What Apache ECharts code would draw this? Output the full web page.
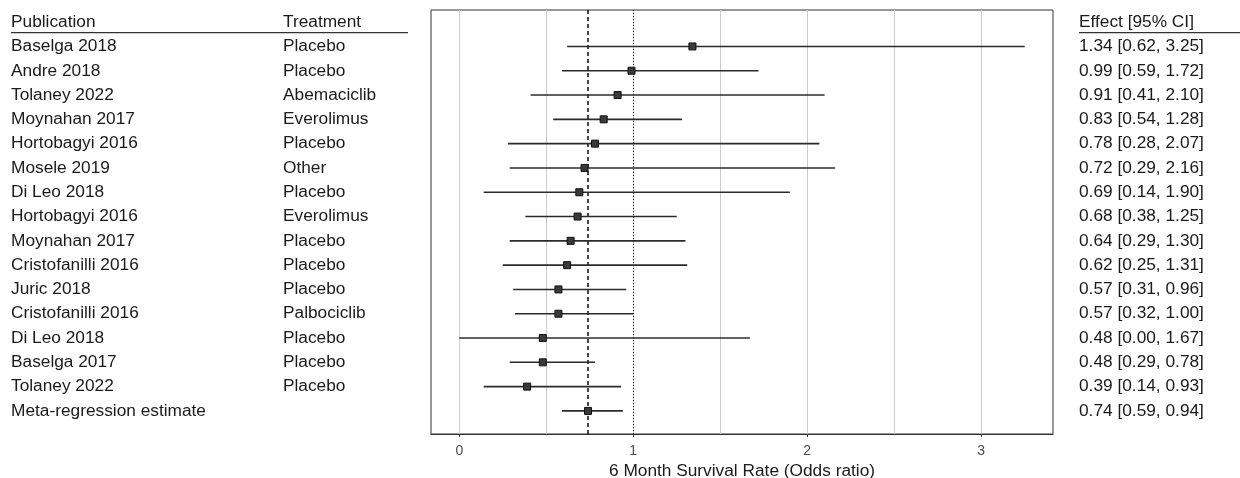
<!DOCTYPE html>
<html>
<head>
<meta charset="utf-8">
<script src="https://cdn.jsdelivr.net/npm/echarts@6/dist/echarts.min.js"></script>
<style>
	html, body { margin: 0; padding: 0; background: #fff; }
	#forestDiv { width: 1240px; height: 478px; }
</style>
</head>
<body>
<div id="forestDiv"></div>
<script>
// study rows, top to bottom (last row is the pooled estimate)
const publications = ['Baselga 2018', 'Andre 2018', 'Tolaney 2022', 'Moynahan 2017', 'Hortobagyi 2016', 'Mosele 2019',
	'Di Leo 2018', 'Hortobagyi 2016', 'Moynahan 2017', 'Cristofanilli 2016', 'Juric 2018', 'Cristofanilli 2016',
	'Di Leo 2018', 'Baselga 2017', 'Tolaney 2022', 'Meta-regression estimate'];
const treatments = ['Placebo', 'Placebo', 'Abemaciclib', 'Everolimus', 'Placebo', 'Other', 'Placebo', 'Everolimus',
	'Placebo', 'Placebo', 'Placebo', 'Palbociclib', 'Placebo', 'Placebo', 'Placebo', ''];
const effects = [1.34, 0.99, 0.91, 0.83, 0.78, 0.72, 0.69, 0.68, 0.64, 0.62, 0.57, 0.57, 0.48, 0.48, 0.39, 0.74];
const lowers = [0.62, 0.59, 0.41, 0.54, 0.28, 0.29, 0.14, 0.38, 0.29, 0.25, 0.31, 0.32, 0.00, 0.29, 0.14, 0.59];
const uppers = [3.25, 1.72, 2.10, 1.28, 2.07, 2.16, 1.90, 1.25, 1.30, 1.31, 0.96, 1.00, 1.67, 0.78, 0.93, 0.94];
const headers = ['Publication', 'Treatment', 'Effect [95% CI]'];
const gridTicks = [0, 0.5, 1, 1.5, 2, 2.5, 3];
const labelTicks = [0, 1, 2, 3];
const nullValue = 1;
const pooledEffect = effects[effects.length - 1];

const FONT = '"Liberation Sans", Arial, sans-serif';
const TXT = '#1a1a1a';

forestInit = () => {
	let chart = echarts.init(document.getElementById('forestDiv'), null, { renderer: 'canvas' });

	let rows = effects.map((e, i) => [i, e, lowers[i], uppers[i]]);
	let textRows = publications.map((p, i) => [i, p, treatments[i],
		effects[i].toFixed(2) + ' [' + lowers[i].toFixed(2) + ', ' + uppers[i].toFixed(2) + ']']);
	textRows.unshift([-1, headers[0], headers[1], headers[2]]);

	let option = {
		animation: false,
		textStyle: { fontFamily: FONT },
		grid: {
			left: 431,
			top: 10,
			width: 622,
			height: 424,
			outerBoundsMode: 'none',
			containLabel: false,
			show: true,
			borderColor: '#333',
			borderWidth: 1,
			backgroundColor: '#fff'
		},
		xAxis: {
			type: 'value',
			min: -0.1625,
			max: 3.4125,
			name: '6 Month Survival Rate (Odds ratio)',
			nameLocation: 'middle',
			nameGap: 27,
			nameTextStyle: { color: TXT, fontSize: 17.3, fontFamily: FONT },
			axisLine: { show: true, onZero: false, lineStyle: { color: '#333', width: 1 } },
			axisTick: { show: true, length: 3, customValues: labelTicks, lineStyle: { color: '#333' } },
			axisLabel: { customValues: labelTicks, color: '#4d4d4d', fontSize: 14, margin: 10, fontFamily: FONT },
			splitLine: { show: false }
		},
		yAxis: {
			type: 'value',
			inverse: true,
			min: -1.5,
			max: 15.95,
			show: false
		},
		series: [{
			// reference grid lines + null / pooled lines
			type: 'line',
			data: [],
			silent: true,
			markLine: {
				silent: true,
				symbol: 'none',
				label: { show: false },
				data: gridTicks.map(v => ({ xAxis: v, lineStyle: { color: '#cccccc', width: 1, type: 'solid' } }))
					.concat([
						{ xAxis: nullValue, lineStyle: { color: '#222', width: 1, type: [1, 2] } },
						{ xAxis: pooledEffect, lineStyle: { color: '#1a1a1a', width: 1.6, type: [4, 3] } }
					])
			}
		}, {
			// confidence intervals and point estimates
			type: 'custom',
			z: 5,
			data: rows,
			renderItem: function(params, api) {
				let y = api.value(0);
				let a = api.coord([api.value(2), y]);
				let b = api.coord([api.value(3), y]);
				let c = api.coord([api.value(1), y]);
				let s = 7;
				return {
					type: 'group',
					children: [{
						type: 'line',
						shape: { x1: a[0], y1: a[1], x2: b[0], y2: b[1] },
						style: { stroke: '#2b2b2b', lineWidth: 1.6 }
					}, {
						type: 'rect',
						shape: { x: c[0] - s / 2, y: c[1] - s / 2, width: s, height: s },
						style: { fill: '#3a3a3a', stroke: '#111', lineWidth: 1 }
					}]
				};
			}
		}, {
			// table columns on both sides of the plot
			type: 'custom',
			clip: false,
			data: textRows,
			renderItem: function(params, api) {
				let row = textRows[params.dataIndex];
				let y = api.coord([0, row[0]])[1];
				let style = (t) => ({ text: t, fill: TXT, font: '17.3px ' + FONT, textVerticalAlign: 'middle' });
				let kids = [
					{ type: 'text', x: 11, y: y, style: style(row[1]) },
					{ type: 'text', x: 283, y: y, style: style(row[2]) },
					{ type: 'text', x: 1079, y: y, style: style(row[3]) }
				];
				if (row[0] < 0) {
					kids.push({ type: 'line', shape: { x1: 11, y1: y + 10.5, x2: 408, y2: y + 10.5 }, style: { stroke: '#333', lineWidth: 1.2 } });
					kids.push({ type: 'line', shape: { x1: 1079, y1: y + 10.5, x2: 1240, y2: y + 10.5 }, style: { stroke: '#333', lineWidth: 1.2 } });
				}
				return { type: 'group', children: kids };
			}
		}]
	};
	chart.setOption(option);
}

forestInit();
</script>
</body>
</html>
